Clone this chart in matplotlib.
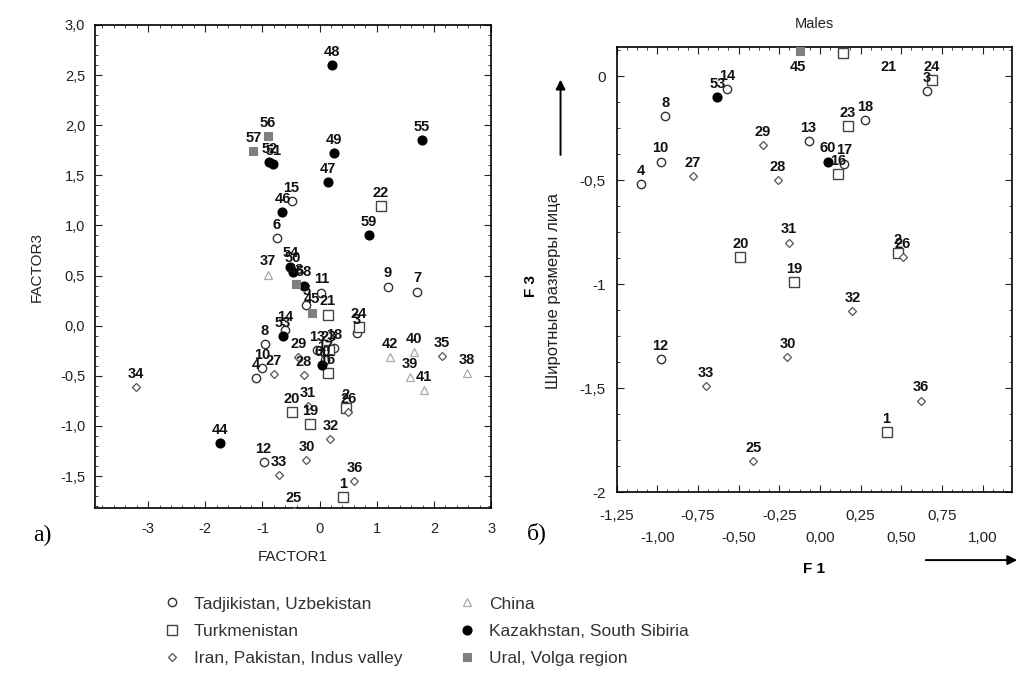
import matplotlib
matplotlib.use("Agg")
import matplotlib.pyplot as plt
from matplotlib.lines import Line2D
from matplotlib.ticker import MultipleLocator, AutoMinorLocator, FuncFormatter

plt.rcParams['font.family'] = ['Liberation Sans', 'DejaVu Sans']

# group codes: T Tadjikistan/Uzbekistan, K Turkmenistan, I Iran/Pakistan/Indus,
# C China, Z Kazakhstan/South Sibiria, U Ural/Volga
group_names = {
    'T': "Tadjikistan, Uzbekistan",
    'K': "Turkmenistan",
    'I': "Iran, Pakistan, Indus valley",
    'C': "China",
    'Z': "Kazakhstan, South Sibiria",
    'U': "Ural, Volga region",
}
legend_order = ['T', 'K', 'I', 'C', 'Z', 'U']

# panel a) FACTOR1 / FACTOR3
left_labels = ['1', '2', '3', '4', '5', '6', '7', '8', '9', '10',
               '11', '12', '13', '14', '15', '16', '17', '18', '19', '20',
               '21', '22', '23', '24', '25', '26', '27', '28', '29', '30',
               '31', '32', '33', '34', '35', '36', '37', '38', '39', '40',
               '41', '42', '43', '44', '45', '46', '47', '48', '49', '50',
               '51', '52', '53', '54', '55', '56', '57', '58', '59', '60']
left_groups = list("KKTTTTTTTT" "TTTTTKTTKK" "KKKKIIIIII" "IIIIIICCCC" "CCUZUZZZZZ" "ZZZZZUUZZZ")
left_x = [0.41, 0.46, 0.65, -1.12, -0.23, -0.75, 1.71, -0.96, 1.19, -1.00,
          0.03, -0.98, -0.05, -0.60, -0.49, 0.14, 0.10, 0.26, -0.17, -0.49,
          0.14, 1.07, 0.16, 0.69, -0.45, 0.50, -0.80, -0.28, -0.37, -0.23,
          -0.21, 0.19, -0.71, -3.22, 2.14, 0.61, -0.91, 2.58, 1.58, 1.65,
          1.83, 1.23, -0.42, -1.75, -0.14, -0.65, 0.14, 0.21, 0.25, -0.47,
          -0.81, -0.88, -0.64, -0.51, 1.79, -0.91, -1.16, -0.28, 0.86, 0.05]
left_y = [-1.71, -0.82, -0.07, -0.52, 0.21, 0.87, 0.34, -0.18, 0.39, -0.42,
          0.33, -1.36, -0.24, -0.04, 1.24, -0.47, -0.34, -0.22, -0.98, -0.86,
          0.11, 1.19, -0.24, -0.01, -1.85, -0.86, -0.48, -0.49, -0.31, -1.34,
          -0.80, -1.13, -1.49, -0.61, -0.30, -1.55, 0.51, -0.47, -0.51, -0.26,
          -0.64, -0.31, 0.42, -1.17, 0.13, 1.13, 1.43, 2.60, 1.72, 0.54,
          1.61, 1.63, -0.10, 0.59, 1.85, 1.89, 1.74, 0.40, 0.90, -0.39]

# panel б) F1 / F3, males
right_labels = ['1', '2', '3', '4', '8', '10', '12', '13', '14', '16',
                '17', '18', '19', '20', '21', '23', '24', '25', '26', '27',
                '28', '29', '30', '31', '32', '33', '36', '45', '53', '60']
right_groups = list("KKTTTTTTTK" "TTKKKKKIII" "IIIIIIIUZZ")
right_x = [0.41, 0.48, 0.66, -1.10, -0.95, -0.98, -0.98, -0.07, -0.57, 0.11,
           0.15, 0.28, -0.16, -0.49, 0.14, 0.17, 0.69, -0.41, 0.51, -0.78,
           -0.26, -0.35, -0.20, -0.19, 0.20, -0.70, 0.62, -0.12, -0.63, 0.05]
right_y = [-1.71, -0.85, -0.07, -0.52, -0.19, -0.41, -1.36, -0.31, -0.06, -0.47,
           -0.42, -0.21, -0.99, -0.87, 0.11, -0.24, -0.02, -1.85, -0.87, -0.48,
           -0.50, -0.33, -1.35, -0.80, -1.13, -1.49, -1.56, 0.12, -0.10, -0.41]

STYLE = {
    'T': dict(marker='o', mfc='white', mec='#333333', ms=6, mew=1.0),
    'K': dict(marker='s', mfc='white', mec='#444444', ms=6.5, mew=1.0),
    'I': dict(marker='D', mfc='white', mec='#555555', ms=3.6, mew=0.9),
    'C': dict(marker='^', mfc='white', mec='#aaaaaa', ms=5.5, mew=0.9),
    'Z': dict(marker='o', mfc='black', mec='black', ms=6.5, mew=0.8),
    'U': dict(marker='s', mfc='#808080', mec='#808080', ms=6, mew=0.8),
}


def scatter_panel(ax, labels, groups, xs, ys, nudges):
    handles = {}
    for g in legend_order:
        px = [x for x, gg in zip(xs, groups) if gg == g]
        py = [y for y, gg in zip(ys, groups) if gg == g]
        if px:
            line, = ax.plot(px, py, linestyle='none', zorder=3, **STYLE[g])
            handles[g] = line
    for lab, x, y in zip(labels, xs, ys):
        dx, dy = nudges.get(lab, (0, 9.5))
        ax.annotate(lab, (x, y), xytext=(dx, dy), textcoords='offset points',
                    ha='center', va='center', fontsize=10.5, fontweight='bold',
                    color='#111111', annotation_clip=False, zorder=4)
    return handles


fig = plt.figure(figsize=(10.21, 6.74), dpi=100)

# ---- panel a)
ax1 = fig.add_axes([0.093, 0.246, 0.388, 0.717])
handles = scatter_panel(ax1, left_labels, left_groups, left_x, left_y, {})
ax1.set_xlim(-3.93, 3.0)
ax1.set_ylim(-1.82, 3.0)
ax1.xaxis.set_major_locator(MultipleLocator(1))
ax1.yaxis.set_major_locator(MultipleLocator(0.5))
ax1.xaxis.set_minor_locator(AutoMinorLocator(5))
ax1.yaxis.set_minor_locator(AutoMinorLocator(5))
ax1.xaxis.set_major_formatter(FuncFormatter(lambda v, p: f"{v:g}"))
ax1.yaxis.set_major_formatter(FuncFormatter(lambda v, p: f"{v:.1f}".replace('.', ',').replace('-0,0', '0,0')))
ax1.tick_params(which='both', direction='in', top=True, right=True, labelsize=10.5, colors='#222222')
ax1.tick_params(which='major', length=5, pad=7)
ax1.tick_params(axis='x', which='major', pad=10)
ax1.tick_params(which='minor', length=2.5)
for s in ax1.spines.values():
    s.set_linewidth(1.2)
ax1.set_xlabel("FACTOR1", fontsize=11, labelpad=10, color='#222222')
ax1.set_ylabel("FACTOR3", fontsize=11, labelpad=12, color='#222222')
fig.text(0.041, 0.206, "a)", fontsize=17, family='Liberation Serif', ha='center', va='center')

# ---- panel б)
ax2 = fig.add_axes([0.604, 0.270, 0.387, 0.660])
scatter_panel(ax2, right_labels, right_groups, right_x, right_y,
              {'45': (-1.5, -11), '21': (33, -10)})
ax2.set_xlim(-1.25, 1.18)
ax2.set_ylim(-2.0, 0.14)
xt = [-1.25, -1.0, -0.75, -0.5, -0.25, 0.0, 0.25, 0.5, 0.75, 1.0]
xl = []
for i, v in enumerate(xt):
    s = f"{v:.2f}".replace('.', ',').replace('-0,00', '0,00')
    xl.append(s if i % 2 == 0 else "\n" + s)
ax2.set_xticks(xt, xl)
ax2.xaxis.set_minor_locator(AutoMinorLocator(4))
ax2.yaxis.set_major_locator(MultipleLocator(0.5))
ax2.yaxis.set_minor_locator(AutoMinorLocator(4))
ax2.yaxis.set_major_formatter(FuncFormatter(lambda v, p: f"{v:g}".replace('.', ',')))
ax2.tick_params(which='both', direction='in', top=True, right=True, labelsize=11, colors='#222222')
ax2.tick_params(which='major', length=5, pad=8)
ax2.tick_params(axis='x', which='major', pad=12)
ax2.tick_params(which='minor', length=2.5)
for lbl in ax2.get_xticklabels():
    lbl.set_linespacing(1.75)
for s in ax2.spines.values():
    s.set_linewidth(1.2)
ax2.set_title("Males", fontsize=10.5, pad=14, color='#222222')
ax2.set_xlabel("F 1", fontsize=11, fontweight='bold', labelpad=12)
fig.text(0.520, 0.576, "F 3", fontsize=11, fontweight='bold', rotation=90, ha='center', va='center')
fig.text(0.542, 0.568, "Широтные размеры лица", fontsize=12, rotation=90, ha='center', va='center',
         color='#222222')
fig.text(0.526, 0.209, "б)", fontsize=17, family='Liberation Serif', ha='center', va='center')

# arrows along the axes
fig.add_artist(matplotlib.patches.FancyArrowPatch((0.549, 0.766), (0.549, 0.886), transform=fig.transFigure,
                                                  arrowstyle='-|>', mutation_scale=14, lw=1.4, color='black'))
fig.add_artist(matplotlib.patches.FancyArrowPatch((0.904, 0.169), (0.999, 0.169), transform=fig.transFigure,
                                                  arrowstyle='-|>', mutation_scale=14, lw=1.4, color='black'))

# ---- legend
leg_handles = [Line2D([], [], linestyle='none', **STYLE[g]) for g in legend_order]
fig.legend(leg_handles, [group_names[g] for g in legend_order], ncol=2, loc='upper left',
           bbox_to_anchor=(0.151, 0.128), frameon=False, fontsize=12.5, handlelength=1.0,
           handletextpad=0.8, columnspacing=3.2, labelspacing=0.7, borderpad=0,
           labelcolor='#333333')

fig.savefig("out.png", dpi=100)
